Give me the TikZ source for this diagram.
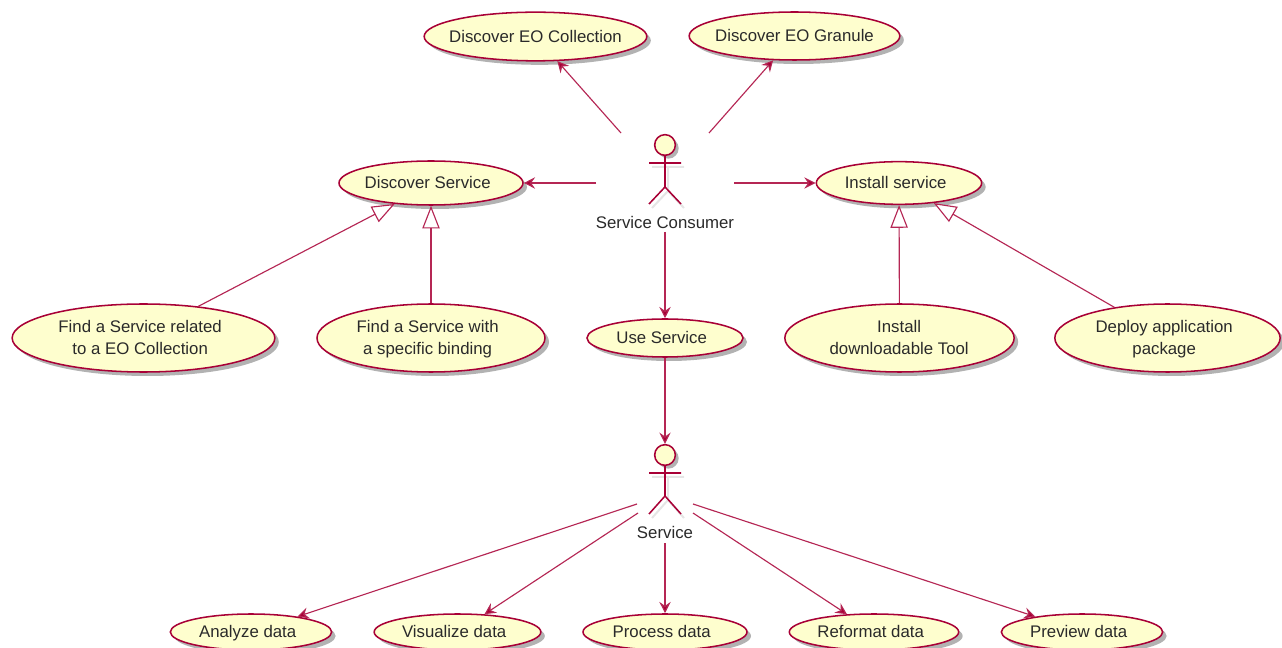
\documentclass[tikz,border=0pt]{standalone}
\usepackage{fontspec}
\setmainfont{Liberation Sans}
\usetikzlibrary{shapes.geometric,shadows,arrows.meta}
\definecolor{umlline}{HTML}{A80036}
\definecolor{umlfill}{HTML}{FEFECE}
\definecolor{umltext}{HTML}{2A2A2A}
% text of a use case, set off the centre of the ellipse as in the reference
\newcommand{\uctext}[2][-5pt]{\raisebox{-8pt}{\makebox[0pt][c]{\kern#1\smash{\begin{tabular}{@{}c@{}}#2\end{tabular}}}}}
\tikzset{
  usecase/.style={ellipse,draw=umlline,fill=umlfill,line width=1.15pt,inner sep=0pt,
    text=umltext,font=\fontsize{12.6}{16.5}\selectfont,
    drop shadow={shadow xshift=3pt,shadow yshift=-3pt,fill=black,opacity=.3}},
  assoc/.style={draw=umlline!85!white,line width=.85pt,-{Stealth[length=8.5pt,width=8.5pt,inset=3pt,fill=umlline]}},
  gener/.style={draw=umlline!85!white,line width=.85pt,-{Triangle[length=17pt,width=13pt,fill=white]}},
  actorhead/.style={circle,draw=umlline,fill=umlfill,line width=1.15pt,minimum size=15.5pt,inner sep=0pt,
    drop shadow={shadow xshift=2.5pt,shadow yshift=-2.5pt,fill=black,opacity=.3}},
  actorbody/.style={draw=umlline,line width=1.15pt},
  actorshadow/.style={draw=black,opacity=.1,line width=1.5pt},
  actorlabel/.style={text=umltext,font=\fontsize{12.6}{14}\selectfont,inner sep=0pt},
}
\begin{document}
\begin{tikzpicture}[x=.75pt,y=-.75pt]
\useasboundingbox[fill=white] (0,0) rectangle (1282,648);
% use cases
\node[usecase,minimum width=167pt,minimum height=36.5pt] (dc) at (535.5,36.5) {\uctext[0pt]{Discover EO Collection}};
\node[usecase,minimum width=158pt,minimum height=36pt] (dg) at (794.5,36) {\uctext[0pt]{Discover EO Granule}};
\node[usecase,minimum width=138pt,minimum height=33pt] (ds) at (431,183) {\uctext{Discover Service}};
\node[usecase,minimum width=124pt,minimum height=32pt] (is) at (899,183) {\uctext{Install service}};
\node[usecase,minimum width=197pt,minimum height=51pt] (fr) at (143.5,338) {\uctext{Find a Service related\\to a EO Collection}};
\node[usecase,minimum width=171pt,minimum height=51pt] (fb) at (431,338) {\uctext{Find a Service with\\a specific binding}};
\node[usecase,minimum width=117pt,minimum height=28.5pt] (us) at (665,338) {\uctext{Use Service}};
\node[usecase,minimum width=172pt,minimum height=51pt] (it) at (899.5,338) {\uctext[-0.5pt]{Install\\downloadable Tool}};
\node[usecase,minimum width=169pt,minimum height=51pt] (dp) at (1167.5,338) {\uctext{Deploy application\\package}};
\node[usecase,minimum width=121pt,minimum height=27pt] (an) at (251,632) {\uctext{Analyze data}};
\node[usecase,minimum width=125pt,minimum height=27pt] (vi) at (457.5,632) {\uctext{Visualize data}};
\node[usecase,minimum width=123pt,minimum height=27pt] (pr) at (665,632) {\uctext{Process data}};
\node[usecase,minimum width=127pt,minimum height=27pt] (re) at (874,632) {\uctext{Reformat data}};
\node[usecase,minimum width=121pt,minimum height=27pt] (pv) at (1082,632) {\uctext{Preview data}};
% actor: Service Consumer
\draw[actorshadow] (652,167)--(684,167) (668,167)--(668,191) (652,208)--(668,191)--(684,208);
\node[actorhead] (consumer) at (665,145) {};
\draw[actorbody] (649,163)--(681,163) (consumer.south)--(665,187) (649,204)--(665,187)--(681,204);
\node[actorlabel] (consumerlabel) at (665,222) {Service Consumer};
% actor: Service
\draw[actorshadow] (652,477)--(684,477) (668,477)--(668,500) (652,518)--(668,500)--(684,518);
\node[actorhead] (service) at (665,455) {};
\draw[actorbody] (649,473)--(681,473) (service.south)--(665,496) (649,514)--(665,496)--(681,514);
\node[actorlabel] (servicelabel) at (665,532) {Service};
% free ends
\coordinate (c1) at (621,133);
\coordinate (c2) at (709,133);
\coordinate (c3) at (596,183);
\coordinate (c4) at (734,183);
\coordinate (c5) at (665,232);
\coordinate (s1) at (637,504);
\coordinate (s2) at (638,513);
\coordinate (s3) at (665,543);
\coordinate (s4) at (693,513);
\coordinate (s5) at (693,504);
% associations
\draw[assoc] (c1) -- (dc);
\draw[assoc] (c2) -- (dg);
\draw[assoc] (c3) -- (ds);
\draw[assoc] (c4) -- (is);
\draw[assoc] (c5) -- (us);
\draw[assoc] (us) -- (service);
\draw[assoc] (s1) -- (an);
\draw[assoc] (s2) -- (vi);
\draw[assoc] (s3) -- (pr);
\draw[assoc] (s4) -- (re);
\draw[assoc] (s5) -- (pv);
% generalizations
\draw[gener] (fr.30) -- (ds.210);
\draw[gener] (fb) -- (ds);
\draw[gener] (it) -- (is);
\draw[gener] (dp.150) -- (is.-30);
\end{tikzpicture}
\end{document}
